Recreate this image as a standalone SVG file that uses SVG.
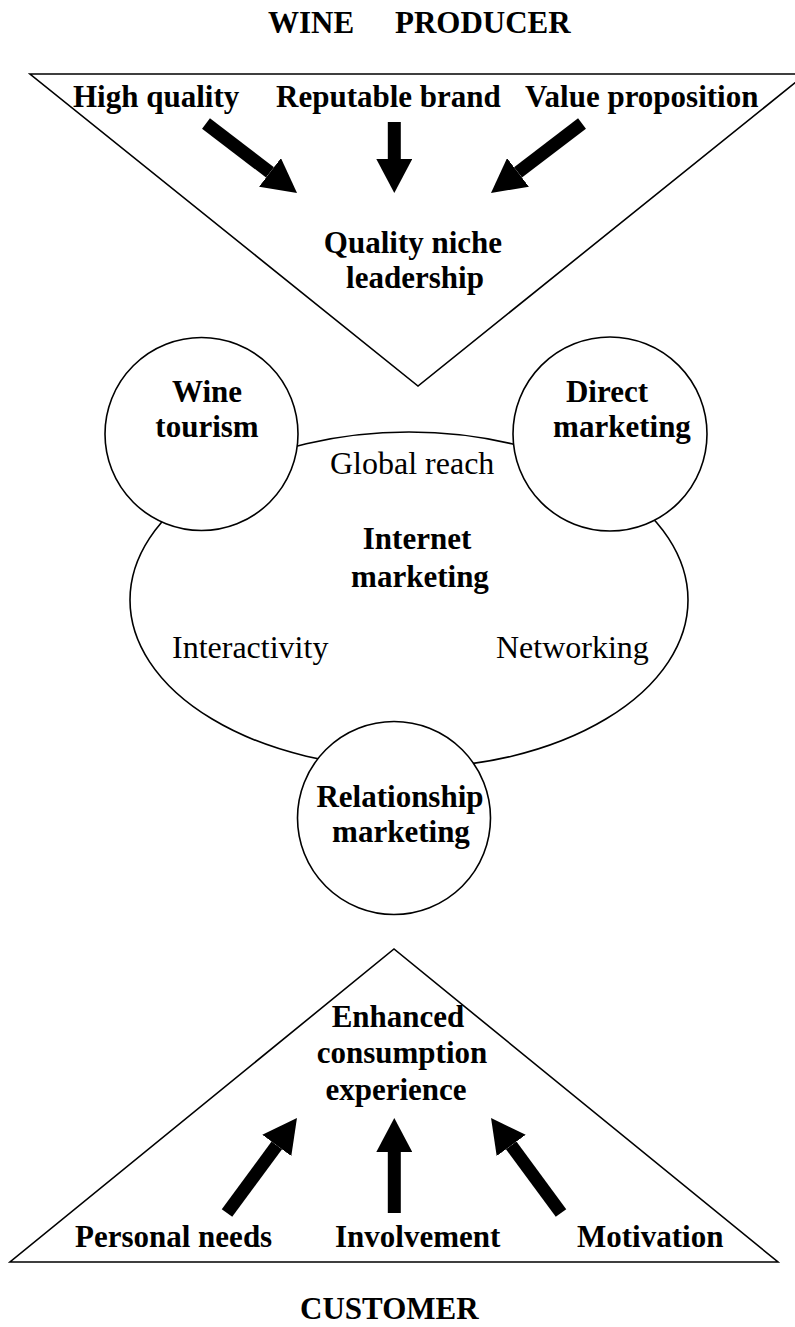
<svg xmlns="http://www.w3.org/2000/svg" width="795" height="1327" viewBox="0 0 795 1327">
  <style>
    text { font-family: "Liberation Serif", "Times New Roman", serif; fill: #000; }
    .b { font-weight: bold; font-size: 31px; }
    .n { font-weight: normal; font-size: 32px; }
    .c { text-anchor: middle; }
    .shape { fill: #fff; stroke: #000; stroke-width: 1.6; }
    .arrow { stroke: #000; stroke-width: 13; stroke-linecap: butt; marker-end: url(#head); }
  </style>
  <defs>
    <!-- solid block arrowhead; line ends at the head's base -->
    <marker id="head" markerUnits="userSpaceOnUse" markerWidth="34" markerHeight="36" viewBox="0 0 34 36" refX="0" refY="18" orient="auto">
      <path d="M0,0 L34,18 L0,36 z" fill="#000"/>
    </marker>
  </defs>
  <rect width="795" height="1327" fill="#fff"/>

  <!-- producer side -->
  <g id="title-producer">
    <text class="b" x="268" y="33">WINE</text>
    <text class="b" x="395" y="33">PRODUCER</text>
  </g>
  <g id="producer-triangle">
    <polygon class="shape" points="30,74 806,74 418,386"/>
    <text class="b" x="73" y="107">High quality</text>
    <text class="b" x="276" y="107">Reputable brand</text>
    <text class="b" x="525" y="107">Value proposition</text>
    <text class="b c" x="413" y="253">Quality niche</text>
    <text class="b c" x="415" y="288">leadership</text>
  </g>

  <!-- internet marketing hub -->
  <g id="internet-marketing">
    <ellipse class="shape" cx="409" cy="600" rx="279" ry="168"/>
    <text class="n" x="330" y="474">Global reach</text>
    <text class="b c" x="417" y="549">Internet</text>
    <text class="b c" x="420" y="587">marketing</text>
    <text class="n" x="172" y="658">Interactivity</text>
    <text class="n" x="496" y="658">Networking</text>
  </g>
  <g id="wine-tourism">
    <circle class="shape" cx="201.5" cy="434" r="96.5"/>
    <text class="b c" x="207" y="402">Wine</text>
    <text class="b c" x="207" y="437">tourism</text>
  </g>
  <g id="direct-marketing">
    <circle class="shape" cx="610" cy="434" r="97"/>
    <text class="b c" x="607" y="402">Direct</text>
    <text class="b c" x="622" y="437">marketing</text>
  </g>
  <g id="relationship-marketing">
    <circle class="shape" cx="394" cy="818" r="96.5"/>
    <text class="b c" x="400" y="807">Relationship</text>
    <text class="b c" x="401" y="842">marketing</text>
  </g>

  <!-- customer side -->
  <g id="customer-triangle">
    <polygon class="shape" points="10,1262 778,1262 394,949"/>
    <text class="b c" x="398" y="1027">Enhanced</text>
    <text class="b c" x="402" y="1063">consumption</text>
    <text class="b c" x="396" y="1100">experience</text>
    <text class="b" x="75" y="1247">Personal needs</text>
    <text class="b" x="335" y="1247">Involvement</text>
    <text class="b" x="577" y="1247">Motivation</text>
  </g>
  <g id="title-customer">
    <text class="b" x="300" y="1319">CUSTOMER</text>
  </g>

  <!-- block arrows -->
  <g id="connectors">
    <line class="arrow" x1="206" y1="123.5" x2="270" y2="172.4"/>
    <line class="arrow" x1="394.3" y1="122" x2="394.3" y2="159"/>
    <line class="arrow" x1="582" y1="123.5" x2="518" y2="172.4"/>
    <line class="arrow" x1="227" y1="1213" x2="276.8" y2="1145.4"/>
    <line class="arrow" x1="394.3" y1="1213" x2="394.3" y2="1152"/>
    <line class="arrow" x1="561" y1="1213" x2="511.2" y2="1145.4"/>
  </g>
</svg>
